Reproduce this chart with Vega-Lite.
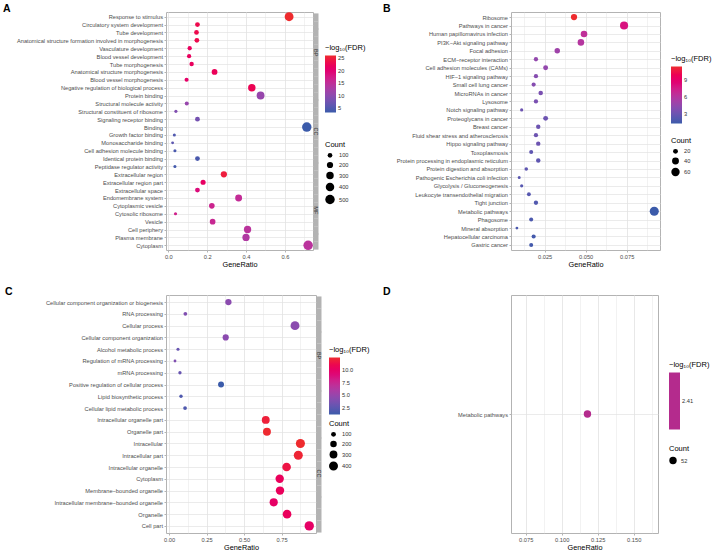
{
  "$schema": "https://vega.github.io/schema/vega-lite/v6.json",
  "autosize": {"type": "none"},
  "padding": {"left": 166, "top": 12, "right": 548, "bottom": 539},
  "columns": 2,
  "spacing": {"row": 45, "column": 195},
  "bounds": "flush",
  "resolve": {"scale": {"color": "independent", "size": "independent"}},
  "config": {
    "font": "Liberation Sans",
    "view": {"stroke": "#B3B3B3", "strokeWidth": 1},
    "axis": {"labelFont": "Liberation Sans", "labelFontSize": 5.7, "labelColor": "#4D4D4D", "tickColor": "#A0A0A0", "tickSize": 2, "tickWidth": 0.8, "domain": false, "gridColor": "#E2E2E2", "gridWidth": 0.7, "titleFont": "Liberation Sans", "titleFontSize": 7.3, "titleFontWeight": "normal", "titleColor": "#000000", "labelPadding": 1.5, "titlePadding": 1.5, "labelFlush": false, "labelOverlap": false, "labelLimit": 300},
    "legend": {"titleFont": "Liberation Sans", "labelFont": "Liberation Sans", "titleFontSize": 7.5, "titleFontWeight": "normal", "titleColor": "#000000", "labelFontSize": 5.7, "labelColor": "#333333", "gradientThickness": 11, "gradientLength": 57, "gradientStrokeWidth": 0, "symbolBaseFillColor": "#000000", "symbolBaseStrokeColor": "#000000", "titlePadding": 4, "labelOffset": 4, "direction": "vertical", "rowPadding": 3},
    "title": {"font": "Liberation Sans", "fontSize": 10.5, "fontWeight": "bold", "color": "#000000", "anchor": "start", "frame": "group", "baseline": "alphabetic", "offset": -2}
  },
  "concat": [
    {
      "title": {"text": "A", "dx": -163},
      "width": 147,
      "height": 238,
      "data": {"values": [
        {"Term": "Response to stimulus", "GeneRatio": 0.622, "Count": 435, "logFDR": 26.2},
        {"Term": "Circulatory system development", "GeneRatio": 0.150, "Count": 105, "logFDR": 23.5},
        {"Term": "Tube development", "GeneRatio": 0.145, "Count": 101, "logFDR": 23.5},
        {"Term": "Anatomical structure formation involved in morphogenesis", "GeneRatio": 0.147, "Count": 103, "logFDR": 23.5},
        {"Term": "Vasculature development", "GeneRatio": 0.110, "Count": 77, "logFDR": 22},
        {"Term": "Blood vessel development", "GeneRatio": 0.107, "Count": 75, "logFDR": 22},
        {"Term": "Tube morphogenesis", "GeneRatio": 0.120, "Count": 84, "logFDR": 22},
        {"Term": "Anatomical structure morphogenesis", "GeneRatio": 0.238, "Count": 167, "logFDR": 22.5},
        {"Term": "Blood vessel morphogenesis", "GeneRatio": 0.094, "Count": 66, "logFDR": 21},
        {"Term": "Negative regulation of biological process", "GeneRatio": 0.430, "Count": 301, "logFDR": 23},
        {"Term": "Protein binding", "GeneRatio": 0.475, "Count": 333, "logFDR": 11},
        {"Term": "Structural molecule activity", "GeneRatio": 0.095, "Count": 66, "logFDR": 11},
        {"Term": "Structural constituent of ribosome", "GeneRatio": 0.039, "Count": 27, "logFDR": 9},
        {"Term": "Signaling receptor binding", "GeneRatio": 0.150, "Count": 105, "logFDR": 8},
        {"Term": "Binding", "GeneRatio": 0.713, "Count": 500, "logFDR": 3.3},
        {"Term": "Growth factor binding", "GeneRatio": 0.031, "Count": 22, "logFDR": 5},
        {"Term": "Monosaccharide binding", "GeneRatio": 0.022, "Count": 15, "logFDR": 6},
        {"Term": "Cell adhesion molecule binding", "GeneRatio": 0.034, "Count": 24, "logFDR": 4.5},
        {"Term": "Identical protein binding", "GeneRatio": 0.150, "Count": 105, "logFDR": 4.5},
        {"Term": "Peptidase regulator activity", "GeneRatio": 0.034, "Count": 24, "logFDR": 4},
        {"Term": "Extracellular region", "GeneRatio": 0.286, "Count": 200, "logFDR": 25},
        {"Term": "Extracellular region part", "GeneRatio": 0.179, "Count": 125, "logFDR": 21.5},
        {"Term": "Extracellular space", "GeneRatio": 0.150, "Count": 105, "logFDR": 19},
        {"Term": "Endomembrane system", "GeneRatio": 0.362, "Count": 253, "logFDR": 15.5},
        {"Term": "Cytoplasmic vesicle", "GeneRatio": 0.224, "Count": 157, "logFDR": 16.5},
        {"Term": "Cytosolic ribosome", "GeneRatio": 0.037, "Count": 26, "logFDR": 17},
        {"Term": "Vesicle", "GeneRatio": 0.228, "Count": 160, "logFDR": 16},
        {"Term": "Cell periphery", "GeneRatio": 0.408, "Count": 286, "logFDR": 14.5},
        {"Term": "Plasma membrane", "GeneRatio": 0.400, "Count": 280, "logFDR": 13.5},
        {"Term": "Cytoplasm", "GeneRatio": 0.720, "Count": 504, "logFDR": 14.5}
      ]},
      "layer": [
        {
          "mark": {"type": "circle", "opacity": 1},
          "encoding": {
            "y": {"field": "Term", "type": "nominal", "sort": null, "scale": {"padding": 0.6}, "axis": {"title": null, "grid": true}},
            "x": {"field": "GeneRatio", "type": "quantitative", "scale": {"domain": [-0.012, 0.745], "nice": false, "zero": false},
              "axis": {"title": "GeneRatio", "grid": true, "values": [0, 0.1, 0.2, 0.3, 0.4, 0.5, 0.6, 0.7],
                "labelExpr": "abs(datum.value*5 - round(datum.value*5)) > 0.01 ? '' : format(datum.value, '.1f')",
                "tickOpacity": {"condition": {"test": "abs(datum.value*5 - round(datum.value*5)) > 0.01", "value": 0}, "value": 1},
                "gridWidth": {"condition": {"test": "abs(datum.value*5 - round(datum.value*5)) > 0.01", "value": 0.45}, "value": 0.8}}},
            "color": {"field": "logFDR", "type": "quantitative", "scale": {"domain": [3.3, 26.2], "range": ["#3B5BAA", "#EE2B2E"], "interpolate": "hcl"},
              "legend": {"title": "−log₁₀(FDR)", "orient": "none", "legendX": 159, "legendY": 32, "values": [5, 10, 15, 20, 25]}},
            "size": {"field": "Count", "type": "quantitative", "scale": {"domain": [15, 504], "range": [8, 90], "zero": false},
              "legend": {"title": "Count", "orient": "none", "legendX": 159, "legendY": 129, "values": [100, 200, 300, 400, 500], "symbolFillColor": "#000000", "symbolStrokeWidth": 0, "symbolOpacity": 1}}
          }
        },
        {
          "mark": {"type": "circle", "opacity": 0},
          "encoding": {
            "y": {"field": "Term", "type": "nominal", "sort": null,
              "axis": {"orient": "right", "title": null, "grid": false, "domain": false, "offset": 0,
                "ticks": true, "tickSize": 5, "tickWidth": 8.2, "tickColor": "#B3B3B3", "tickOpacity": 1, "tickCap": "butt",
                "labelExpr": "datum.value == 'Vasculature development' ? 'BP' : datum.value == 'Binding' ? 'CC' : datum.value == 'Cytoplasmic vesicle' ? 'MF' : ''",
                "labelAngle": 90, "labelAlign": "center", "labelBaseline": "middle", "labelPadding": -2.5, "labelOffset": 3.94, "labelColor": "#333333", "labelFontSize": 5.5}}
          }
        }
      ],
      "resolve": {"axis": {"y": "independent"}}
    },
    {
      "title": {"text": "B", "dx": -128},
      "width": 149,
      "height": 238,
      "data": {"values": [
        {"Term": "Ribosome", "GeneRatio": 0.0429, "Count": 33, "logFDR": 11.5},
        {"Term": "Pathways in cancer", "GeneRatio": 0.0734, "Count": 56, "logFDR": 8},
        {"Term": "Human papillomavirus infection", "GeneRatio": 0.049, "Count": 37, "logFDR": 6.5},
        {"Term": "PI3K−Akt signaling pathway", "GeneRatio": 0.0471, "Count": 36, "logFDR": 6},
        {"Term": "Focal adhesion", "GeneRatio": 0.0327, "Count": 25, "logFDR": 5},
        {"Term": "ECM−receptor interaction", "GeneRatio": 0.0197, "Count": 15, "logFDR": 4.5},
        {"Term": "Cell adhesion molecules (CAMs)", "GeneRatio": 0.0256, "Count": 20, "logFDR": 4.5},
        {"Term": "HIF−1 signaling pathway", "GeneRatio": 0.0197, "Count": 15, "logFDR": 4},
        {"Term": "Small cell lung cancer", "GeneRatio": 0.0183, "Count": 14, "logFDR": 4},
        {"Term": "MicroRNAs in cancer", "GeneRatio": 0.0226, "Count": 17, "logFDR": 3.5},
        {"Term": "Lysosome", "GeneRatio": 0.0197, "Count": 15, "logFDR": 3.5},
        {"Term": "Notch signaling pathway", "GeneRatio": 0.011, "Count": 8, "logFDR": 3},
        {"Term": "Proteoglycans in cancer", "GeneRatio": 0.0256, "Count": 20, "logFDR": 3},
        {"Term": "Breast cancer", "GeneRatio": 0.0211, "Count": 16, "logFDR": 3},
        {"Term": "Fluid shear stress and atherosclerosis", "GeneRatio": 0.0197, "Count": 15, "logFDR": 3},
        {"Term": "Hippo signaling pathway", "GeneRatio": 0.0211, "Count": 16, "logFDR": 3},
        {"Term": "Toxoplasmosis", "GeneRatio": 0.0168, "Count": 13, "logFDR": 2.5},
        {"Term": "Protein processing in endoplasmic reticulum", "GeneRatio": 0.0211, "Count": 16, "logFDR": 2.5},
        {"Term": "Protein digestion and absorption", "GeneRatio": 0.0138, "Count": 10, "logFDR": 2.5},
        {"Term": "Pathogenic Escherichia coli infection", "GeneRatio": 0.0095, "Count": 7, "logFDR": 2.3},
        {"Term": "Glycolysis / Gluconeogenesis", "GeneRatio": 0.011, "Count": 8, "logFDR": 2.2},
        {"Term": "Leukocyte transendothelial migration", "GeneRatio": 0.0154, "Count": 12, "logFDR": 2.2},
        {"Term": "Tight junction", "GeneRatio": 0.0197, "Count": 15, "logFDR": 2},
        {"Term": "Metabolic pathways", "GeneRatio": 0.0918, "Count": 70, "logFDR": 1.2},
        {"Term": "Phagosome", "GeneRatio": 0.0168, "Count": 13, "logFDR": 1.8},
        {"Term": "Mineral absorption", "GeneRatio": 0.0081, "Count": 6, "logFDR": 1.8},
        {"Term": "Hepatocellular carcinoma", "GeneRatio": 0.0183, "Count": 14, "logFDR": 1.5},
        {"Term": "Gastric cancer", "GeneRatio": 0.0168, "Count": 13, "logFDR": 1.5}
      ]},
      "mark": {"type": "circle", "opacity": 1},
      "encoding": {
        "y": {"field": "Term", "type": "nominal", "sort": null, "scale": {"padding": 0.6}, "axis": {"title": null, "grid": true}},
        "x": {"field": "GeneRatio", "type": "quantitative", "scale": {"domain": [0.0045, 0.0953], "nice": false, "zero": false},
          "axis": {"title": "GeneRatio", "grid": true, "values": [0.0125, 0.025, 0.0375, 0.05, 0.0625, 0.075, 0.0875],
            "labelExpr": "abs(datum.value*40 - round(datum.value*40)) > 0.01 ? '' : format(datum.value, '.3f')",
            "tickOpacity": {"condition": {"test": "abs(datum.value*40 - round(datum.value*40)) > 0.01", "value": 0}, "value": 1},
            "gridWidth": {"condition": {"test": "abs(datum.value*40 - round(datum.value*40)) > 0.01", "value": 0.45}, "value": 0.8}}},
        "color": {"field": "logFDR", "type": "quantitative", "scale": {"domain": [1.2, 11.5], "range": ["#3B5BAA", "#EE2B2E"], "interpolate": "hcl"},
          "legend": {"title": "−log₁₀(FDR)", "orient": "none", "legendX": 160, "legendY": 43, "values": [3, 6, 9]}},
        "size": {"field": "Count", "type": "quantitative", "scale": {"domain": [6, 70], "range": [8, 82], "zero": false},
          "legend": {"title": "Count", "orient": "none", "legendX": 160, "legendY": 125, "values": [20, 40, 60], "symbolFillColor": "#000000", "symbolStrokeWidth": 0, "symbolOpacity": 1}}
      }
    },
    {
      "title": {"text": "C", "dx": -161},
      "width": 150,
      "height": 238,
      "data": {"values": [
        {"Term": "Cellular component organization or biogenesis", "GeneRatio": 0.396, "Count": 186, "logFDR": 4.5},
        {"Term": "RNA processing", "GeneRatio": 0.109, "Count": 51, "logFDR": 4},
        {"Term": "Cellular process", "GeneRatio": 0.840, "Count": 395, "logFDR": 4.5},
        {"Term": "Cellular component organization", "GeneRatio": 0.378, "Count": 178, "logFDR": 4.5},
        {"Term": "Alcohol metabolic process", "GeneRatio": 0.060, "Count": 28, "logFDR": 3},
        {"Term": "Regulation of mRNA processing", "GeneRatio": 0.040, "Count": 19, "logFDR": 4},
        {"Term": "mRNA processing", "GeneRatio": 0.073, "Count": 34, "logFDR": 3},
        {"Term": "Positive regulation of cellular process", "GeneRatio": 0.347, "Count": 163, "logFDR": 1.23},
        {"Term": "Lipid biosynthetic process", "GeneRatio": 0.080, "Count": 38, "logFDR": 2},
        {"Term": "Cellular lipid metabolic process", "GeneRatio": 0.107, "Count": 50, "logFDR": 2},
        {"Term": "Intracellular organelle part", "GeneRatio": 0.645, "Count": 303, "logFDR": 12},
        {"Term": "Organelle part", "GeneRatio": 0.653, "Count": 307, "logFDR": 12.4},
        {"Term": "Intracellular", "GeneRatio": 0.876, "Count": 412, "logFDR": 12.46},
        {"Term": "Intracellular part", "GeneRatio": 0.862, "Count": 405, "logFDR": 12.2},
        {"Term": "Intracellular organelle", "GeneRatio": 0.784, "Count": 368, "logFDR": 11.5},
        {"Term": "Cytoplasm", "GeneRatio": 0.738, "Count": 347, "logFDR": 10.5},
        {"Term": "Membrane−bounded organelle", "GeneRatio": 0.740, "Count": 348, "logFDR": 10.5},
        {"Term": "Intracellular membrane−bounded organelle", "GeneRatio": 0.698, "Count": 328, "logFDR": 10},
        {"Term": "Organelle", "GeneRatio": 0.787, "Count": 370, "logFDR": 10.5},
        {"Term": "Cell part", "GeneRatio": 0.935, "Count": 440, "logFDR": 10}
      ]},
      "layer": [
        {
          "mark": {"type": "circle", "opacity": 1},
          "encoding": {
            "y": {"field": "Term", "type": "nominal", "sort": null, "scale": {"padding": 0.6}, "axis": {"title": null, "grid": true}},
            "x": {"field": "GeneRatio", "type": "quantitative", "scale": {"domain": [-0.02, 0.98], "nice": false, "zero": false},
              "axis": {"title": "GeneRatio", "grid": true, "values": [0, 0.125, 0.25, 0.375, 0.5, 0.625, 0.75, 0.875],
                "labelExpr": "abs(datum.value*4 - round(datum.value*4)) > 0.01 ? '' : format(datum.value, '.2f')",
                "tickOpacity": {"condition": {"test": "abs(datum.value*4 - round(datum.value*4)) > 0.01", "value": 0}, "value": 1},
                "gridWidth": {"condition": {"test": "abs(datum.value*4 - round(datum.value*4)) > 0.01", "value": 0.45}, "value": 0.8}}},
            "color": {"field": "logFDR", "type": "quantitative", "scale": {"domain": [1.23, 12.46], "range": ["#3B5BAA", "#EE2B2E"], "interpolate": "hcl"},
              "legend": {"title": "−log₁₀(FDR)", "orient": "none", "legendX": 163, "legendY": 51, "values": [2.5, 5, 7.5, 10], "format": ".1f"}},
            "size": {"field": "Count", "type": "quantitative", "scale": {"domain": [19, 440], "range": [8, 88], "zero": false},
              "legend": {"title": "Count", "orient": "none", "legendX": 163, "legendY": 125, "values": [100, 200, 300, 400], "symbolFillColor": "#000000", "symbolStrokeWidth": 0, "symbolOpacity": 1}}
          }
        },
        {
          "mark": {"type": "circle", "opacity": 0},
          "encoding": {
            "y": {"field": "Term", "type": "nominal", "sort": null,
              "axis": {"orient": "right", "title": null, "grid": false, "domain": false, "offset": 0,
                "ticks": true, "tickSize": 5, "tickWidth": 12.1, "tickColor": "#B3B3B3", "tickOpacity": 1, "tickCap": "butt",
                "labelExpr": "datum.value == 'Alcohol metabolic process' ? 'BP' : datum.value == 'Intracellular organelle' ? 'CC' : ''",
                "labelAngle": 90, "labelAlign": "center", "labelBaseline": "middle", "labelPadding": -2.5, "labelOffset": 5.89, "labelColor": "#333333", "labelFontSize": 5.5}}
          }
        }
      ],
      "resolve": {"axis": {"y": "independent"}}
    },
    {
      "title": {"text": "D", "dx": -128},
      "width": 147,
      "height": 238,
      "data": {"values": [
        {"Term": "Metabolic pathways", "GeneRatio": 0.1179, "Count": 52, "logFDR": 2.41}
      ]},
      "mark": {"type": "circle", "opacity": 1},
      "encoding": {
        "y": {"field": "Term", "type": "nominal", "sort": null, "scale": {"padding": 0.6}, "axis": {"title": null, "grid": true}},
        "x": {"field": "GeneRatio", "type": "quantitative", "scale": {"domain": [0.0648, 0.1669], "nice": false, "zero": false},
          "axis": {"title": "GeneRatio", "grid": true, "values": [0.075, 0.0875, 0.1, 0.1125, 0.125, 0.1375, 0.15, 0.1625],
            "labelExpr": "abs(datum.value*40 - round(datum.value*40)) > 0.01 ? '' : format(datum.value, '.3f')",
            "tickOpacity": {"condition": {"test": "abs(datum.value*40 - round(datum.value*40)) > 0.01", "value": 0}, "value": 1},
            "gridWidth": {"condition": {"test": "abs(datum.value*40 - round(datum.value*40)) > 0.01", "value": 0.45}, "value": 0.8}}},
        "color": {"field": "logFDR", "type": "quantitative", "scale": {"domain": [2.3, 2.52], "range": ["#B42B8D", "#B42B8D"]},
          "legend": {"title": "−log₁₀(FDR)", "orient": "none", "legendX": 158, "legendY": 66, "values": [2.41], "format": ".2f"}},
        "size": {"field": "Count", "type": "quantitative", "scale": {"domain": [40, 64], "range": [40, 70], "zero": false},
          "legend": {"title": "Count", "orient": "none", "legendX": 158, "legendY": 150, "values": [52], "symbolFillColor": "#000000", "symbolStrokeWidth": 0, "symbolOpacity": 1}}
      }
    }
  ]
}
